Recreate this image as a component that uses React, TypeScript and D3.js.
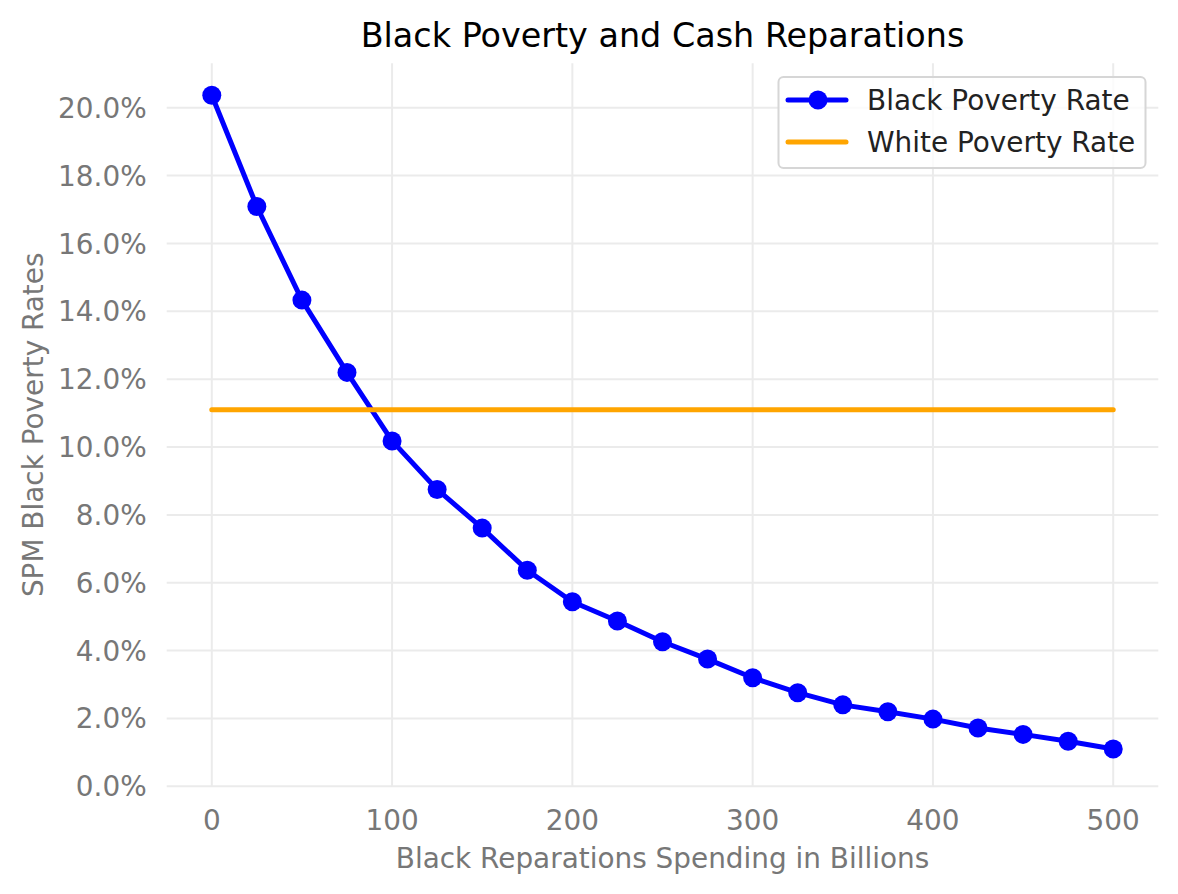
import React from "react";
import * as d3 from "d3";

const spending = [0, 25, 50, 75, 100, 125, 150, 175, 200, 225, 250, 275, 300, 325, 350, 375, 400, 425, 450, 475, 500];
const blackRate = [20.37, 17.09, 14.33, 12.2, 10.18, 8.75, 7.61, 6.37, 5.44, 4.87, 4.26, 3.75, 3.2, 2.76, 2.4, 2.2, 1.98, 1.72, 1.53, 1.33, 1.1];
const whiteRate = 11.1;
const xTicks = [0, 100, 200, 300, 400, 500];
const yTicks = [0, 2, 4, 6, 8, 10, 12, 14, 16, 18, 20];

const W = 1178, H = 894;
const left = 166.7, right = 1158.3, top = 63.3, bottom = 786.3;
const FONT = "DejaVu Sans, Verdana, sans-serif";
const FS = 27.9;

export default function App() {
  const x = d3.scaleLinear().domain([-25, 525]).range([left, right]);
  const y = d3.scaleLinear().domain([0, 21.31]).range([bottom, top]);
  const pts = spending.map((s, i) => [s, blackRate[i]] as [number, number]);
  const line = d3.line<[number, number]>().x(d => x(d[0])).y(d => y(d[1]));
  const grid = "#ebebeb";
  const gray = "#777777";
  return (
    <svg width={W} height={H} style={{ position: "absolute", left: 0, top: 0, background: "#fff" }} fontFamily={FONT}>
      <rect width={W} height={H} fill="#fff" />
      {yTicks.map(t => (
        <line key={"gy" + t} x1={left} x2={right} y1={y(t)} y2={y(t)} stroke={grid} strokeWidth={2} />
      ))}
      {xTicks.map(t => (
        <line key={"gx" + t} x1={x(t)} x2={x(t)} y1={top} y2={bottom} stroke={grid} strokeWidth={2} />
      ))}
      {yTicks.map(t => (
        <text key={"ty" + t} x={left - 20} y={y(t)} dy="0.36em" textAnchor="end" fontSize={FS} fill={gray}>
          {t.toFixed(1) + "%"}
        </text>
      ))}
      {xTicks.map(t => (
        <text key={"tx" + t} x={x(t)} y={bottom + 34} dy="0.36em" textAnchor="middle" fontSize={FS} fill={gray}>
          {t}
        </text>
      ))}
      <text x={(left + right) / 2} y={858} dy="0.36em" textAnchor="middle" fontSize={FS} fill={gray}>
        Black Reparations Spending in Billions
      </text>
      <text transform={`translate(33,${(top + bottom) / 2}) rotate(-90)`} dy="0.36em" textAnchor="middle" fontSize={FS} fill={gray}>
        SPM Black Poverty Rates
      </text>
      <text x={(left + right) / 2} y={35} dy="0.36em" textAnchor="middle" fontSize={33.4} fill="#000">
        Black Poverty and Cash Reparations
      </text>
      <path d={line(pts) || ""} fill="none" stroke="#0000ff" strokeWidth={5} strokeLinejoin="round" />
      {pts.map((p, i) => (
        <circle key={"p" + i} cx={x(p[0])} cy={y(p[1])} r={9.5} fill="#0000ff" />
      ))}
      <line x1={x(0)} x2={x(500)} y1={y(whiteRate)} y2={y(whiteRate)} stroke="#ffa500" strokeWidth={5} strokeLinecap="round" />
      <g>
        <rect x={778.5} y={77} width={367} height={91} rx={5} fill="#fff" fillOpacity={0.8} stroke="#d6d6d6" strokeWidth={2} />
        <line x1={788} x2={846} y1={100} y2={100} stroke="#0000ff" strokeWidth={5} strokeLinecap="round" />
        <circle cx={818} cy={100} r={9.5} fill="#0000ff" />
        <text x={867} y={100} dy="0.36em" fontSize={FS} fill="#222">Black Poverty Rate</text>
        <line x1={788} x2={846} y1={142} y2={142} stroke="#ffa500" strokeWidth={5} strokeLinecap="round" />
        <text x={867} y={142} dy="0.36em" fontSize={FS} fill="#222">White Poverty Rate</text>
      </g>
    </svg>
  );
}
